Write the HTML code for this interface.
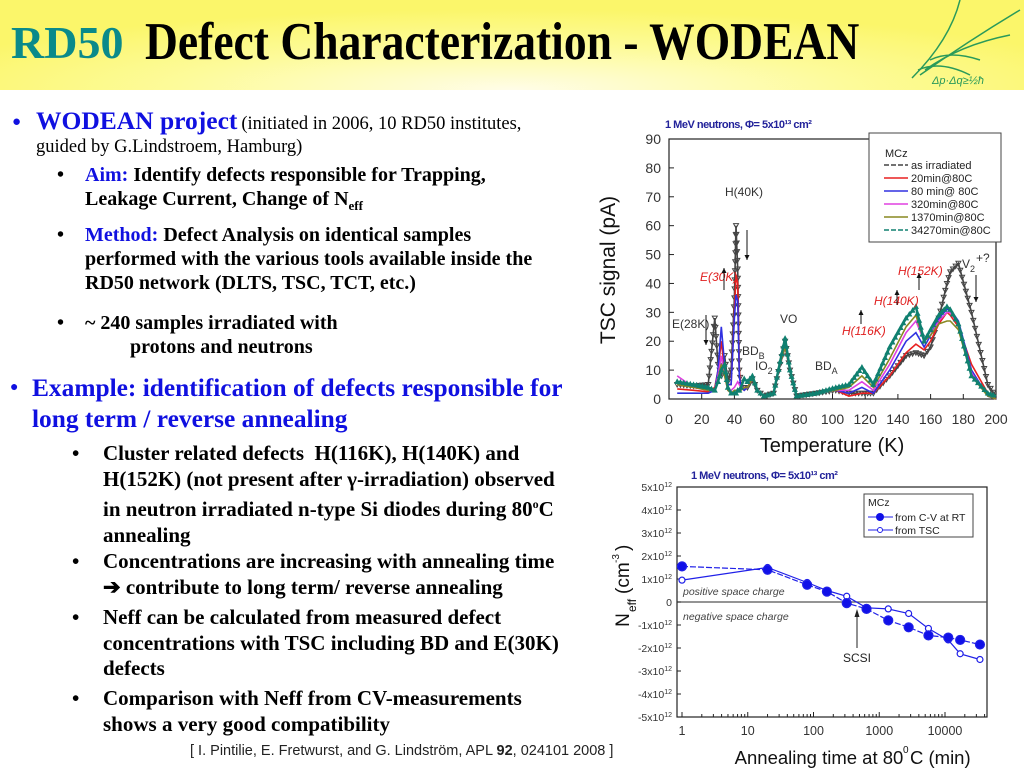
<!DOCTYPE html>
<html><head><meta charset="utf-8">
<style>
body{margin:0;width:1024px;height:768px;position:relative;background:#fff;overflow:hidden;font-family:"Liberation Serif",serif;}
.a{position:absolute;white-space:nowrap;}
.hdr{position:absolute;left:0;top:0;width:1024px;height:90px;background:radial-gradient(ellipse 60% 90% at 50% 100%,#fffde8 0%,#fdfb9a 55%,#fbf66a 100%);}
.b{font-weight:bold;color:#000;}
.g1{font-size:20px;line-height:24px;}
.g2{font-size:21px;line-height:25.5px;}
.blue{color:#1010e0;}
svg text{font-family:"Liberation Sans",sans-serif;}
</style></head><body>
<div class="hdr"></div>
<div class="a" style="left:11px;top:16px;font-size:46px;font-weight:bold;color:#0a8a8a;">RD50</div>
<div class="a" style="left:145px;top:12px;font-size:53px;font-weight:bold;transform:scaleX(0.86);transform-origin:0 0;">Defect Characterization - WODEAN</div>
<svg class="a" style="left:900px;top:0" width="124" height="90">
<g stroke="#2a9a5a" fill="none" stroke-width="1.5"><path d="M60 0 Q50 40 12 78"/><path d="M120 10 Q70 40 20 75"/><path d="M110 35 Q60 45 25 70"/><path d="M30 60 Q50 50 80 60"/><path d="M18 70 Q40 60 70 75"/></g>
<text x="32" y="84" font-size="11" fill="#2a9a5a" font-style="italic">Δp·Δq≥½ħ</text></svg>

<div class="a" style="left:12px;top:114px;font-size:15px;color:#1010e0">●</div>
<div class="a" style="left:36px;top:106px;"><b class="blue" style="font-size:25.5px">WODEAN project</b> <span style="font-size:18.5px">(initiated in 2006, 10 RD50 institutes,</span></div>
<div class="a" style="left:36px;top:137px;font-size:18.5px;">guided by G.Lindstroem, Hamburg)</div>

<div class="a b g1" style="left:57px;top:163px">•</div>
<div class="a b g1" style="left:85px;top:163px"><span class="blue">Aim:</span> Identify defects responsible for Trapping,<br>Leakage Current, Change of N<sub style="font-size:13px">eff</sub></div>
<div class="a b g1" style="left:57px;top:223px">•</div>
<div class="a b g1" style="left:85px;top:223px"><span class="blue">Method:</span> Defect Analysis on identical samples<br>performed with the various tools available inside the<br>RD50 network (DLTS, TSC, TCT, etc.)</div>
<div class="a b g1" style="left:57px;top:311px">•</div>
<div class="a b g1" style="left:85px;top:311px">~ 240 samples irradiated with<br>&nbsp;&nbsp;&nbsp;&nbsp;&nbsp;&nbsp;&nbsp;&nbsp;&nbsp;protons and neutrons</div>

<div class="a" style="left:10px;top:380px;font-size:14px;color:#1010e0">●</div>
<div class="a" style="left:32px;top:373px;font-size:25.4px;font-weight:bold;color:#1010e0;line-height:31px">Example: identification of defects responsible for<br>long term / reverse annealing</div>

<div class="a b g2" style="left:72px;top:441px">•</div>
<div class="a b g2" style="left:103px;top:441px">Cluster related defects&nbsp; H(116K), H(140K) and<br>H(152K) (not present after γ-irradiation) observed<br>in neutron irradiated n-type Si diodes during 80<sup style="font-size:12px">o</sup>C<br>annealing</div>
<div class="a b g2" style="left:72px;top:549px">•</div>
<div class="a b g2" style="left:103px;top:549px">Concentrations are increasing with annealing time<br>➔ contribute to long term/ reverse annealing</div>
<div class="a b g2" style="left:72px;top:605px">•</div>
<div class="a b g2" style="left:103px;top:605px">Neff can be calculated from measured defect<br>concentrations with TSC including BD and E(30K)<br>defects</div>
<div class="a b g2" style="left:72px;top:686px">•</div>
<div class="a b g2" style="left:103px;top:686px">Comparison with Neff from CV-measurements<br>shows a very good compatibility</div>
<div class="a" style="left:190px;top:743px;font-family:'Liberation Sans',sans-serif;font-size:14.5px;color:#222;background:#fff">[ I. Pintilie, E. Fretwurst, and G. Lindström, APL <b>92</b>, 024101 2008 ]</div>

<svg id="tsc" class="a" style="left:0;top:0" width="1024" height="768"></svg>
<script>
const tscT=[5,15,24,28,30,32,34,36,38,40,41,42,43,44,46,48,51,54,58,64,68,71,74,78,90,102,110,118,125,135,145,151,156,160,165,170,172,177,185,195,200];
const sAsIrr=[5,4.5,5,28,12,8,15,6,10,35,60,45,10,5,4,4,7,3,1,2,12,20,10,1,2,3,2,2,2,8,15,16,15,18,28,40,44,47,30,5,1];
const s20=[3.5,3,2.5,4,10,20,10,5,5,30,43,40,10,4,3,4,7,3,1,2,12,18,10,1,2,3,1,2,2,8,16,19,17,20,26,30,29,25,12,2,0];
const s80=[2,2,2,3,10,25,12,5,5,28,36,34,8,4,3,4,7,3,1,2,12,18,10,1,2,3,2,4,2,10,20,23,18,22,28,31,31,27,10,1,0];
const s320=[8,4,3,3,8,15,8,3,3,4,5,6,5,4,4,4,7,3,1,2,12,18,10,1,2,3,3,6,3,12,23,27,20,22,27,30,30,26,9,1,0];
const s1370=[5,4,3,3,7,12,8,3,2,3,3,3,3,3,4,4,7,3,1,2,12,18,10,1,2,3,4,8,4,14,25,29,20,22,26,27,27,24,8,1,0];
const s34270=[6,5,4,3,6,10,12,4,2,2,2,3,3,4,7,6,8,3,1,2,13,21,10,1,2,4,5,11,5,18,28,32,20,24,29,32,31,26,8,2,1];
const tscXTicks=[0,20,40,60,80,100,120,140,160,180,200];
const tscYTicks=[0,10,20,30,40,50,60,70,80,90];
const tscLegend=["as irradiated","20min@80C","80 min@ 80C","320min@80C","1370min@80C","34270min@80C"];

const neffTime=[1,20,80,160,320,640,1370,2800,5600,11200,17000,34000];
const neffCV=[1.55,1.4,0.75,0.45,-0.05,-0.3,-0.8,-1.1,-1.45,-1.55,-1.65,-1.85];
const neffTSC=[0.95,1.5,0.85,0.5,0.25,-0.25,-0.3,-0.5,-1.15,-1.65,-2.25,-2.5];
const neffYTicks=[5,4,3,2,1,0,-1,-2,-3,-4,-5];
const neffXTicks=[1,10,100,1000,10000];

const svg=document.getElementById('tsc');
const NS='http://www.w3.org/2000/svg';
function mk(tag,at,parent){const e=document.createElementNS(NS,tag);for(const k in at)e.setAttribute(k,at[k]);(parent||svg).appendChild(e);return e;}
function txt(x,y,s,at){const e=mk('text',Object.assign({x:x,y:y},at||{}));e.textContent=s;return e;}
function sub(x,y,base,s,at){const e=txt(x,y,base,at);const t=mk('tspan',{dy:4,'font-size':9},e);t.textContent=s;return e;}

// ---- TSC chart
const X0=669,X1=996,Y0=399,Y1=139;
const tx=t=>X0+(t/200)*(X1-X0), ty=v=>Y0-(v/90)*(Y0-Y1);
let e=mk('rect',{x:X0,y:Y1,width:X1-X0,height:Y0-Y1,fill:'none',stroke:'#222','stroke-width':1.2});


tscXTicks.forEach(t=>{mk('line',{x1:tx(t),x2:tx(t),y1:Y0,y2:Y0-5,stroke:'#222'});
 e=txt(tx(t),424,t,{'font-size':14,'text-anchor':'middle',fill:'#333'});
 
 });
tscYTicks.forEach(v=>{mk('line',{x1:X0,x2:X0+5,y1:ty(v),y2:ty(v),stroke:'#222'});
 e=txt(X0-8,ty(v)+5,v,{'font-size':14,'text-anchor':'end',fill:'#333'});
 
 });
e=txt(832,452,'Temperature (K)',{'font-size':20,'text-anchor':'middle',fill:'#111'});


e=txt(0,0,'TSC signal (pA)',{'font-size':21,'text-anchor':'middle',fill:'#111',transform:'translate(615,270) rotate(-90)'});


e=txt(665,128,'1 MeV neutrons, Φ= 5x10¹³ cm²',{'font-size':11,fill:'#22229a','font-weight':'bold','letter-spacing':'-0.5'});


const series=[[sAsIrr,'#444','v'],[s20,'#e82020',''],[s80,'#3030e0',''],[s320,'#e040e0',''],[s1370,'#888820',''],[s34270,'#108070','^']];
const snames=['series-as-irradiated','series-20min','series-80min','series-320min','series-1370min','series-34270min'];
series.forEach((s,i)=>{
 const pts=tscT.map((t,j)=>[tx(t),ty(s[0][j])]);
 e=mk('polyline',{points:pts.map(p=>p[0].toFixed(1)+','+p[1].toFixed(1)).join(' '),fill:'none',stroke:s[1],'stroke-width':i==5?2.5:1.6});
 
 
 if(s[2]){
  const g=mk('g',{fill:s[2]=='v'?'none':s[1],stroke:s[1],'stroke-width':1});
  
  
  for(let j=0;j<pts.length-1;j++){const [x1,y1]=pts[j],[x2,y2]=pts[j+1];
   const n=Math.max(1,Math.round(Math.hypot((x2-x1),(y2-y1)*0.35)/3.2));
   for(let k=0;k<n;k++){const x=x1+(x2-x1)*k/n,y=y1+(y2-y1)*k/n;
    const p=s[2]=='v'?`${x-2.5},${y-2} ${x+2.5},${y-2} ${x},${y+2.5}`:`${x-2.2},${y+1.8} ${x+2.2},${y+1.8} ${x},${y-2.2}`;
    mk('polygon',{points:p},g);}}
 }
});
// legend
e=mk('rect',{x:869,y:133,width:132,height:109,fill:'#fff',stroke:'#444'});


txt(885,157,'MCz',{'font-size':11,fill:'#222'});
tscLegend.forEach((n,i)=>{const y=169+i*13;
 mk('line',{x1:884,x2:908,y1:y-4,y2:y-4,stroke:series[i][1],'stroke-width':1.4,'stroke-dasharray':(i==0||i==5)?'5,2':''});
 e=txt(911,y,n,{'font-size':11,fill:'#222'});
 
 });
// annotations
const ann=[[725,196,'H(40K)','#333'],[700,281,'E(30K)','#e02020'],[672,328,'E(28K)','#333'],[780,323,'VO','#333'],[842,335,'H(116K)','#e02020'],[874,305,'H(140K)','#e02020'],[898,275,'H(152K)','#e02020']];
ann.forEach(a=>{e=txt(a[0],a[1],a[2],{'font-size':12,fill:a[3],'font-style':a[3]=='#e02020'?'italic':'normal'});
 
 });
[[742,355,'BD','B'],[755,370,'IO','2'],[815,370,'BD','A'],[962,268,'V','2']].forEach(a=>{e=sub(a[0],a[1],a[2],a[3],{'font-size':12,fill:'#333'});
 
 });
txt(976,262,'+?',{'font-size':12,fill:'#333'});
const arrows=[[747,230,747,260],[724,290,724,268],[706,315,706,345],[861,324,861,310],[897,305,897,290],[919,290,919,273],[976,275,976,302]];
arrows.forEach(a=>{mk('line',{x1:a[0],y1:a[1],x2:a[2],y2:a[3],stroke:'#111','stroke-width':1});
 const d=a[3]>a[1]?-1:1;mk('polygon',{points:`${a[2]-2.5},${a[3]+d*5} ${a[2]+2.5},${a[3]+d*5} ${a[2]},${a[3]}`,fill:'#111'});});

// ---- Neff chart
const A0=677,A1=987,B0=717,B1=487;
const lx=t=>682+Math.log10(t)*65.75, ly=v=>(B0+B1)/2-v*(B0-B1)/10;
e=mk('rect',{x:A0,y:B1,width:A1-A0,height:B0-B1,fill:'none',stroke:'#222','stroke-width':1.2});


mk('line',{x1:A0,x2:A1,y1:ly(0),y2:ly(0),stroke:'#555','stroke-width':1.2});
neffYTicks.forEach(v=>{mk('line',{x1:A0,x2:A0+4,y1:ly(v),y2:ly(v),stroke:'#222'});
 const g=mk('text',{x:A0-5,y:ly(v)+4,'font-size':10.5,'text-anchor':'end',fill:'#333'});
 
 
 if(v==0)g.textContent='0';else{g.textContent=(v<0?'-':'')+Math.abs(v)+'x10';const s=mk('tspan',{dy:-4,'font-size':7},g);s.textContent='12';}});
neffXTicks.forEach(t=>{mk('line',{x1:lx(t),x2:lx(t),y1:B0,y2:B0-5,stroke:'#222'});
 for(let k=2;k<10&&t*k<=40000;k++)mk('line',{x1:lx(t*k),x2:lx(t*k),y1:B0,y2:B0-3,stroke:'#222'});
 e=txt(lx(t),735,t,{'font-size':12.5,'text-anchor':'middle',fill:'#333'});
 
 });
e=txt(819,764,'Annealing time at 80',{'font-size':18.5,'text-anchor':'middle',fill:'#111'});


txt(903,753,'0',{'font-size':10,fill:'#111'});txt(910,764,'C (min)',{'font-size':18.5,fill:'#111'});
e=txt(0,0,'N',{'font-size':19,'text-anchor':'middle',fill:'#111',transform:'translate(629,620) rotate(-90)'});


txt(0,0,'eff',{'font-size':12,fill:'#111',transform:'translate(636,612) rotate(-90)'});
txt(0,0,'(cm',{'font-size':19,fill:'#111',transform:'translate(629,594) rotate(-90)'});
txt(0,0,'-3',{'font-size':10,fill:'#111',transform:'translate(619,563) rotate(-90)'});
txt(0,0,')',{'font-size':19,fill:'#111',transform:'translate(629,551) rotate(-90)'});
e=txt(691,479,'1 MeV neutrons, Φ= 5x10¹³ cm²',{'font-size':11,fill:'#22229a','font-weight':'bold','letter-spacing':'-0.5'});


txt(683,595,'positive space charge',{'font-size':10.5,'font-style':'italic',fill:'#444'});
txt(683,620,'negative space charge',{'font-size':10.5,'font-style':'italic',fill:'#444'});
txt(843,662,'SCSI',{'font-size':12,fill:'#222'});
mk('line',{x1:857,y1:648,x2:857,y2:612,stroke:'#222'});mk('polygon',{points:'854.5,617 859.5,617 857,609',fill:'#222'});
function drawNeff(vals,filled,dash,name){
 e=mk('polyline',{points:neffTime.map((t,j)=>lx(t).toFixed(1)+','+ly(vals[j]).toFixed(1)).join(' '),fill:'none',stroke:'#2020e8','stroke-width':1.2,'stroke-dasharray':dash});
 
 
 neffTime.forEach((t,j)=>{const c=mk('circle',{cx:lx(t),cy:ly(vals[j]),r:filled?4.5:3,fill:filled?'#1010e8':'#fff',stroke:'#2020e8','stroke-width':1.2});
  
  });
}
drawNeff(neffTSC,false,'','series-from-tsc');
drawNeff(neffCV,true,'6,2','series-from-cv');
e=mk('rect',{x:864,y:494,width:109,height:43,fill:'#fff',stroke:'#444'});


txt(868,506,'MCz',{'font-size':10.5,fill:'#222'});
mk('line',{x1:868,x2:893,y1:517,y2:517,stroke:'#2020e8'});mk('circle',{cx:880,cy:517,r:4,fill:'#1010e8'});
txt(895,521,'from C-V at RT',{'font-size':10.5,fill:'#222'});
mk('line',{x1:868,x2:893,y1:530,y2:530,stroke:'#2020e8'});mk('circle',{cx:880,cy:530,r:2.5,fill:'#fff',stroke:'#2020e8'});
txt(895,534,'from TSC',{'font-size':10.5,fill:'#222'});
</script>
</body></html>
